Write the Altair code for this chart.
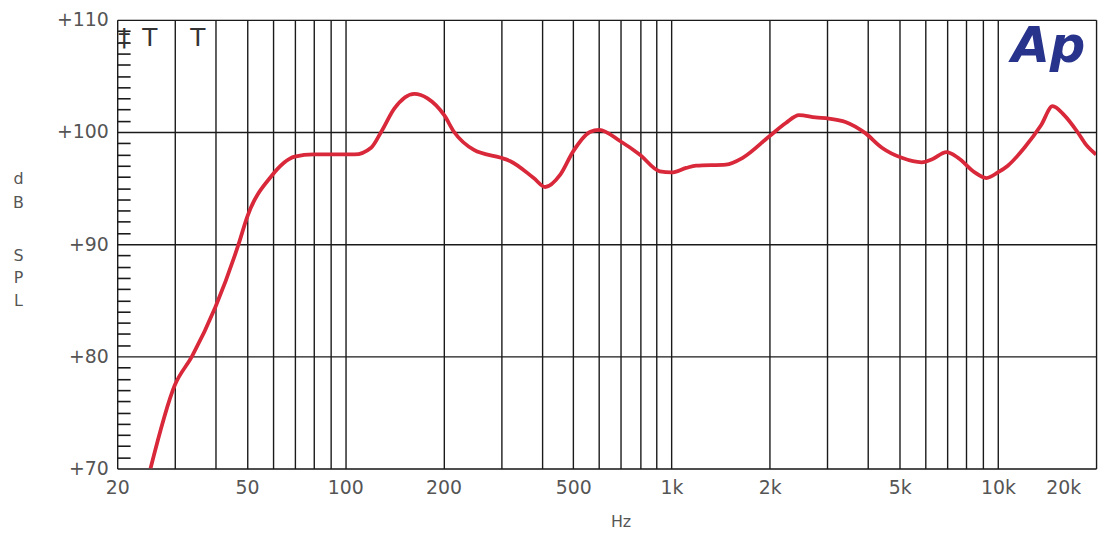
import altair as alt
import pandas as pd

# Frequency response
freq_hz = [25.3, 30, 33.9, 40, 47.1, 50, 59.5, 70, 80, 88.6, 100, 106.8, 120, 128.8,
           141.5, 162.8, 178.7, 201, 215.6, 248, 300, 320.7, 378, 410, 456, 500, 562,
           600, 695, 798, 920, 1000, 1109, 1189, 1468, 1652, 1990, 2240, 2458, 2762,
           3034, 3412, 3926, 4413, 5077, 5844, 6267, 6962, 7553, 8494, 9219, 10000,
           10730, 12060, 13565, 14720, 15970, 17540, 18600, 20000]
spl_db = [70.0, 77.4, 80.0, 84.4, 90.0, 92.4, 96.1, 97.8, 98.0, 98.0, 98.0, 98.0, 98.6,
          100.0, 102.1, 103.4, 103.0, 101.5, 100.0, 98.4, 97.7, 97.4, 95.9, 95.1, 96.2,
          98.3, 100.0, 100.2, 99.2, 98.0, 96.5, 96.4, 96.8, 97.0, 97.1, 97.7, 99.6,
          100.8, 101.5, 101.3, 101.2, 100.9, 99.9, 98.6, 97.7, 97.3, 97.55, 98.2, 97.7,
          96.4, 95.9, 96.4, 97.0, 98.6, 100.6, 102.3, 101.5, 100.0, 98.9, 98.0]

# Axis values
y_major = [70, 80, 90, 100, 110]
y_minor = [v for v in range(71, 110) if v % 10 != 0]
x_grid = [20, 30, 40, 50, 60, 70, 80, 90,
          100, 200, 300, 400, 500, 600, 700, 800, 900,
          1000, 2000, 3000, 4000, 5000, 6000, 7000, 8000, 9000,
          10000, 20000]
x_labeled = [20, 50, 100, 200, 500, 1000, 2000, 5000, 10000, 20000]

# Y title, stacked letters in two groups
y_title_top = ["d", "B"]
y_title_bottom = ["S", "P", "L"]

# Annotations
marker_freq = [21.0, 25.2, 35.3]
marker_db = [107.7, 107.7, 107.7]
marker_text = ["\u2021", "T", "T"]
logo_freq = [14290]
logo_db = [106.2]
logo_text = ["Ap"]

FONT = "DejaVu Sans"
GRID = "#1a1a1a"
LABEL = "#555555"

df = pd.DataFrame({"freq": freq_hz, "spl": spl_db})
minor_df = pd.DataFrame({"v": y_minor})
marker_df = pd.DataFrame({"freq": marker_freq, "spl": marker_db, "t": marker_text})
logo_df = pd.DataFrame({"freq": logo_freq, "spl": logo_db, "t": logo_text})

xscale = alt.Scale(type="log", domain=[20, 20000], nice=False)
yscale = alt.Scale(domain=[70, 110], nice=False, zero=False)

labeled_js = "[" + ",".join(str(v) for v in x_labeled) + "]"
x_label_expr = (
    f"indexof({labeled_js}, datum.value) >= 0 ? "
    "(datum.value >= 1000 ? (datum.value / 1000) + 'k' : '' + datum.value) : ''"
)

x_axis = alt.Axis(
    values=x_grid, labelExpr=x_label_expr, grid=True, gridColor=GRID, gridWidth=1.4,
    ticks=False, domain=False, labelFont=FONT, labelFontSize=19, labelColor=LABEL,
    labelPadding=10, labelOverlap=False, labelFlush=False, labelBound=False,
    labelOffset={"condition": {"test": "datum.value == 20000", "value": -33}, "value": 0},
    title="Hz", titleFont=FONT, titleFontSize=16, titleFontWeight="normal",
    titleColor=LABEL, titleX=507, titlePadding=16,
)

y_axis = alt.Axis(
    values=y_major, labelExpr="'+' + datum.value", grid=True, gridColor=GRID,
    gridWidth=1.4, ticks=False, domain=False, labelFont=FONT, labelFontSize=19,
    labelColor=LABEL, labelPadding=9, labelOverlap=False, labelFlush=False,
    title=y_title_top, titleAngle=0, titleX=-100, titleY=152,
    titleBaseline="top", titleAlign="center", titleFont=FONT, titleFontSize=16,
    titleFontWeight="normal", titleColor=LABEL, titleLineHeight=24.5,
)

line = alt.Chart(df).mark_line(
    color="#d8283a", strokeWidth=3.8, interpolate="monotone", clip=True
).encode(
    x=alt.X("freq:Q", scale=xscale, axis=x_axis),
    y=alt.Y("spl:Q", scale=yscale, axis=y_axis),
)

minor = alt.Chart(minor_df).mark_point(opacity=0).encode(
    y=alt.Y("v:Q", scale=yscale, axis=alt.Axis(
        values=y_minor, orient="left", offset=-13, tickSize=13, tickColor=GRID,
        tickWidth=1.6, labels=False, domain=False, grid=False,
        title=y_title_bottom, titleAngle=0, titleX=-113, titleY=229,
        titleBaseline="top", titleAlign="center", titleFont=FONT, titleFontSize=16,
        titleFontWeight="normal", titleColor=LABEL, titleLineHeight=23)),
)

markers = alt.Chart(marker_df).mark_text(
    font=FONT, fontSize=25, color="#333333", align="center", baseline="alphabetic"
).encode(
    x=alt.X("freq:Q", scale=xscale),
    y=alt.Y("spl:Q", scale=yscale, axis=None),
    text="t:N",
)

logo = alt.Chart(logo_df).mark_text(
    font=FONT, fontSize=50, fontWeight="bold", fontStyle="italic",
    color="#28338c", align="center", baseline="alphabetic"
).encode(
    x=alt.X("freq:Q", scale=xscale),
    y=alt.Y("spl:Q", scale=yscale, axis=None),
    text="t:N",
)

chart = alt.layer(line, minor, markers, logo).resolve_axis(y="independent").properties(
    width=986, height=452, autosize="none",
    padding={"left": 110, "top": 10, "right": 8, "bottom": 66},
).configure_view(stroke="#111111", strokeWidth=2).configure(background="white")

chart.save("out.html", embed_options={"renderer": "svg", "actions": False})
